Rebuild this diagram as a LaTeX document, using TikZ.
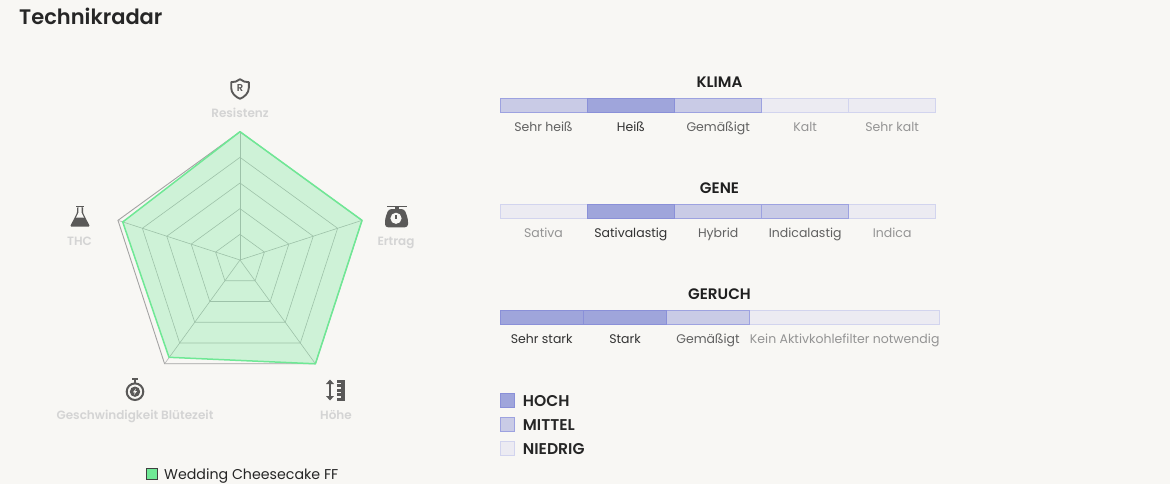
\documentclass[tikz,border=0pt]{standalone}
\usepackage{fontspec}
\usepackage{xcolor}
\usetikzlibrary{positioning}
\setmainfont{Poppins}[BoldFont={Poppins SemiBold}]
\definecolor{paper}{HTML}{F8F7F4}
\definecolor{icongrey}{HTML}{5A5958}
\definecolor{radargreen}{HTML}{6FE895}
\definecolor{hochfill}{HTML}{9FA5DB}
\definecolor{hochline}{HTML}{8A90D8}
\definecolor{mittelfill}{HTML}{C9CBE6}
\definecolor{mittelline}{HTML}{9DA2E0}
\definecolor{niedrigfill}{HTML}{ECEBF2}
\definecolor{niedrigline}{HTML}{D2D4EE}
\tikzset{
axislabel/.style={font={\fontsize{12pt}{14}\selectfont\bfseries},text=black!17,anchor=base},
bartitle/.style={font={\fontsize{15.2pt}{17}\selectfont\bfseries},text=black!88},
cellhoch/.style={draw=hochline,fill=hochfill,line width=.9pt,minimum height=14.4pt,inner sep=0pt,outer sep=0pt},
cellmittel/.style={cellhoch,draw=mittelline,fill=mittelfill},
cellniedrig/.style={cellhoch,draw=niedrigline,fill=niedrigfill},
txthoch/.style={font={\fontsize{12.5pt}{14}\selectfont},text=black!80,anchor=base},
txtmittel/.style={txthoch,text=black!62},
txtniedrig/.style={txthoch,text=black!42}
}
\begin{document}
\begin{tikzpicture}[x=1pt,y=-1pt,
shield icon/.pic={\draw[icongrey,line width=1.9pt,line join=round] (0,-9.8) .. controls (-2.5,-7.6) and (-5.5,-6.8) .. (-8.8,-6.8) -- (-8.8,-1) .. controls (-8.8,4) and (-4.5,8) .. (0,9.8) .. controls (4.5,8) and (8.8,4) .. (8.8,-1) -- (8.8,-6.8) .. controls (5.5,-6.8) and (2.5,-7.6) .. (0,-9.8) -- cycle;
\node[text=icongrey,font={\fontsize{10pt}{10}\selectfont\bfseries},inner sep=0pt] (shieldr) at (0,-.6) {R};},
scale icon/.pic={\fill[icongrey] (-10,-10.4) rectangle (10,-9);
\fill[icongrey] (-2,-9) rectangle (2,-6);
\fill[icongrey,rounded corners=3pt] (-8,-7) -- (8,-7) -- (11.5,3) -- (11.5,11.3) -- (-11.5,11.3) -- (-11.5,3) -- cycle;
\fill[paper] (-.5,2.3) circle (5.6pt);
\fill[icongrey] (-1.2,-1) rectangle (.2,2.5);},
flask icon/.pic={\fill[icongrey] (-3.8,-10.4) rectangle (3.8,-9);
\fill[icongrey,rounded corners=1.2pt] (-3,-9.2) -- (3,-9.2) -- (3,-3) -- (10,10.6) -- (-10,10.6) -- (-3,-3) -- cycle;
\fill[paper] (-1.7,-9) -- (1.7,-9) -- (1.7,-3) -- (4,1.5) -- (-4,1.5) -- (-1.7,-3) -- cycle;},
watch icon/.pic={\fill[icongrey] (-2.8,-13.4) rectangle (2.8,-11.8);
\fill[icongrey] (-1.2,-11.8) rectangle (1.2,-9);
\draw[icongrey,line width=2pt] (0,0) circle (8.3pt);
\fill[icongrey] (0,0) circle (5.2pt);
\fill[paper] (.9,-3.2) -- (-2,.6) -- (-.2,.6) -- (-.9,3.2) -- (2,-.6) -- (.2,-.6) -- cycle;},
height icon/.pic={\draw[icongrey,line width=2pt] (-5.5,-7) -- (-5.5,7);
\fill[icongrey] (-5.5,-10.5) -- (-1.5,-6) -- (-9.5,-6) -- cycle;
\fill[icongrey] (-5.5,10.5) -- (-1.5,6) -- (-9.5,6) -- cycle;
\fill[icongrey] (1,-10.5) rectangle (9.5,10.5);
\foreach \y in {-6.5,-2,2.5,7}\fill[paper] (.5,\y-.8) rectangle (5,\y+.8);}
]
\useasboundingbox[fill=paper] (0,0) rectangle (1170,484);
\node[anchor=base west,inner sep=0pt,font={\fontsize{21pt}{24}\selectfont\bfseries},text=black!85] (title) at (19,25) {Technikradar};

% radar
\begin{scope}[shift={(240,260)}]
\foreach \a/\n in {-90/res,-18/ert,54/hoe,126/blu,198/thc}\coordinate (v\n) at (\a:128.3);
\foreach \r in {25.66,51.32,76.98,102.64}
  \draw[black!30,line width=.6pt] (-90:\r) -- (-18:\r) -- (54:\r) -- (126:\r) -- (198:\r) -- cycle;
\draw[black!36,line width=.9pt] (vres) -- (vert) -- (vhoe) -- (vblu) -- (vthc) -- cycle;
\foreach \n in {res,ert,hoe,blu,thc}\draw[black!30,line width=.6pt] (0,0) -- (v\n);
\coordinate (sblu) at (-71,97.3);
\coordinate (sthc) at (-117.3,-38);
\draw[radargreen,line width=1.5pt,line join=round,fill=radargreen,fill opacity=.3] (vres) -- (vert) -- (vhoe) -- (sblu) -- (sthc) -- cycle;
\end{scope}

\pic at (240,89) {shield icon};
\pic at (396.5,216) {scale icon};
\pic at (80,216) {flask icon};
\pic at (135,391.7) {watch icon};
\pic at (335.5,390) {height icon};
\node[axislabel] (lres) at (240,118) {Resistenz};
\node[axislabel] (lert) at (396,245) {Ertrag};
\node[axislabel] (lthc) at (79.5,245) {THC};
\node[axislabel] (lblu) at (135,419) {Geschwindigkeit Blütezeit};
\node[axislabel] (lhoe) at (336,419) {Höhe};

\node[draw=black!75,fill=radargreen,line width=.9pt,minimum size=11.4pt,inner sep=0pt] (gbox) at (152,474) {};
\node[anchor=base west,inner sep=0pt,font={\fontsize{14.2pt}{16}\selectfont},text=black!85] (gtxt) at (164,479) {Wedding Cheesecake FF};

% bars
\node[bartitle] (klima) at (719.5,82) {KLIMA};
\foreach \n/\xx/\c/\t in {k4/805.2/niedrig/Kalt,k5/892.2/niedrig/Sehr kalt,k1/543.5/mittel/Sehr heiß,k3/718.2/mittel/Gemäßigt,k2/630.85/hoch/Heiß}{
  \node[cell\c,minimum width=87pt] (\n) at (\xx,105.5) {};
  \node[txt\c] (\n t) at (\xx,131.5) {\t};
}
\node[bartitle] (gene) at (719.5,188) {GENE};
\foreach \n/\xx/\c/\t in {g1/543.5/niedrig/Sativa,g5/892.2/niedrig/Indica,g3/718.2/mittel/Hybrid,g4/805.2/mittel/Indicalastig,g2/630.85/hoch/Sativalastig}{
  \node[cell\c,minimum width=87pt] (\n) at (\xx,211.5) {};
  \node[txt\c] (\n t) at (\xx,237.5) {\t};
}
\node[bartitle] (geruch) at (719.5,294) {GERUCH};
\foreach \n/\xx/\w/\c/\t in {r4/844.7/190/niedrig/Kein Aktivkohlefilter notwendig,r3/708/83.4/mittel/Gemäßigt,r1/541.7/83.4/hoch/Sehr stark,r2/625/83.4/hoch/Stark}{
  \node[cell\c,minimum width=\w pt] (\n) at (\xx,317.5) {};
  \node[txt\c] (\n t) at (\xx,343.5) {\t};
}

% legend
\foreach \n/\yy/\c/\t in {hoch/400.5/hoch/HOCH,mittel/424.5/mittel/MITTEL,niedrig/448.5/niedrig/NIEDRIG}{
  \node[cell\c,minimum width=14.4pt] (\n) at (507.5,\yy) {};
  \node[right=8pt of \n,yshift=-.6pt,inner sep=0pt,font={\fontsize{15.6pt}{17}\selectfont\bfseries},text=black!85] (\n t) {\t};
}
\end{tikzpicture}
\end{document}
